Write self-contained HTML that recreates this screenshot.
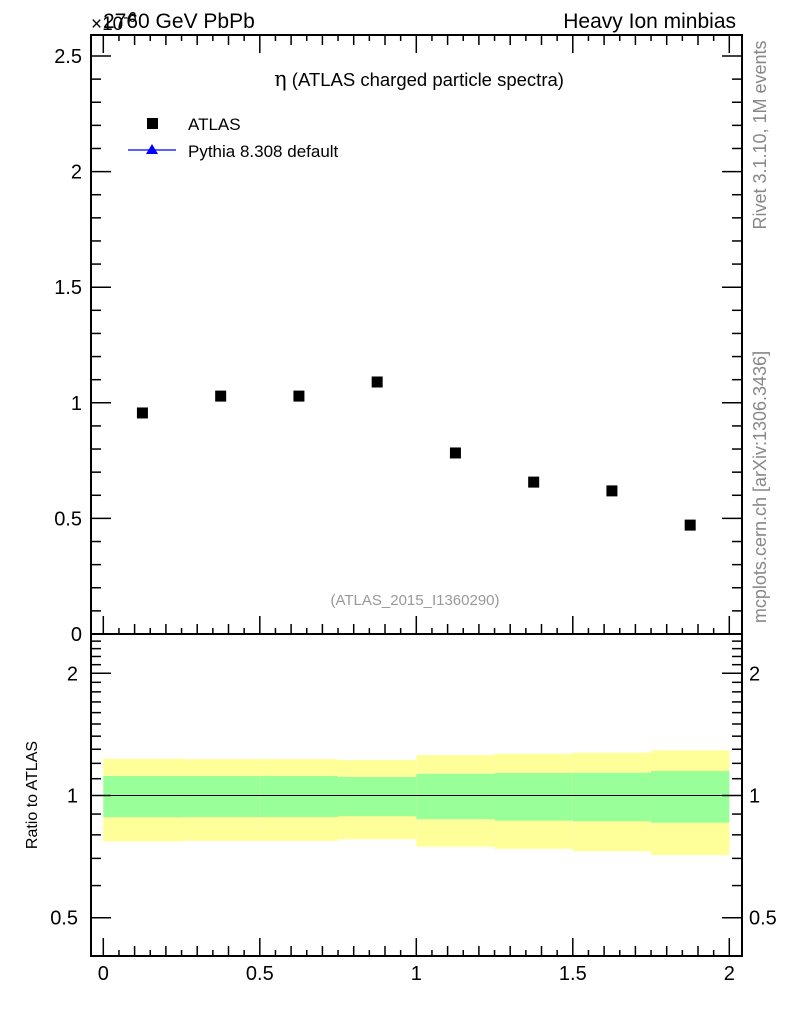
<!DOCTYPE html>
<html><head><meta charset="utf-8"><style>
body{margin:0;background:#fff;}
svg{display:block;font-family:"Liberation Sans",Arial,sans-serif;}
</style></head><body>
<svg id="c" width="786" height="1024" viewBox="0 0 786 1024">
<g id="bands"></g>
<g id="axes"></g>
<g id="marks"></g>
<text x="103" y="28" font-size="21">2760 GeV PbPb</text>
<text x="91" y="30" font-size="19">×10<tspan dy="-8" font-size="15">-6</tspan></text>
<text x="736" y="28" font-size="21" text-anchor="end">Heavy Ion minbias</text>
<text x="419" y="86" font-size="18.5" text-anchor="middle"><tspan font-family="DejaVu Serif,serif" font-size="21">η</tspan> (ATLAS charged particle spectra)</text>
<rect x="147" y="118" width="11" height="11" fill="#000"/>
<text x="188" y="130" font-size="17">ATLAS</text>
<line x1="128" y1="150" x2="176" y2="150" stroke="#00f" stroke-width="1.2"/>
<polygon points="152,144 158,154 146,154" fill="#00f"/>
<text x="188" y="157" font-size="17">Pythia 8.308 default</text>
<text x="415" y="605" font-size="15" fill="#999" text-anchor="middle">(ATLAS_2015_I1360290)</text>
<text transform="translate(766,135) rotate(-90)" font-size="18" fill="#888" text-anchor="middle">Rivet 3.1.10,  1M events</text>
<text transform="translate(766,487) rotate(-90)" font-size="18" fill="#888" text-anchor="middle">mcplots.cern.ch [arXiv:1306.3436]</text>
<text transform="translate(37,795) rotate(-90)" font-size="16" text-anchor="middle">Ratio to ATLAS</text>
</svg>
<script>
const binEdges=[0,0.25,0.5,0.75,1,1.25,1.5,1.75,2];
const atlasValues=[0.956,1.029,1.029,1.09,0.783,0.657,0.619,0.471];
const yellowHi=[1.232,1.229,1.229,1.223,1.258,1.267,1.275,1.292];
const yellowLo=[0.771,0.773,0.773,0.780,0.748,0.739,0.729,0.713];
const greenHi=[1.117,1.117,1.117,1.111,1.131,1.136,1.138,1.149];
const greenLo=[0.884,0.885,0.885,0.889,0.874,0.867,0.864,0.857];
const mainYTicks=["0","0.5","1","1.5","2","2.5"];
const xTicks=["0","0.5","1","1.5","2"];
const ratioYTicks=["0.5","1","2"];

const NS="http://www.w3.org/2000/svg";
const L=91,R=742,T=35,MB=634,RB=956;
const X=v=>103.3+v*313;
const Ym=v=>634-v*231.2;
const Yr=v=>795.5-Math.log10(v)*406;
function mk(p,tag,a){const e=document.createElementNS(NS,tag);for(const k in a)e.setAttribute(k,a[k]);p.appendChild(e);return e;}
const bands=document.getElementById('bands'),axes=document.getElementById('axes'),marks=document.getElementById('marks');
for(let i=0;i<8;i++){
 const x0=X(binEdges[i]),x1=X(binEdges[i+1]);
 let r=mk(bands,'rect',{x:x0,y:Yr(yellowHi[i]),width:x1-x0,height:Yr(yellowLo[i])-Yr(yellowHi[i]),fill:'#ffff99'});
 
 
 r=mk(bands,'rect',{x:x0,y:Yr(greenHi[i]),width:x1-x0,height:Yr(greenLo[i])-Yr(greenHi[i]),fill:'#99ff99'});
 
 
 const c=(binEdges[i]+binEdges[i+1])/2;
 const m=mk(marks,'rect',{x:X(c)-5.5,y:Ym(atlasValues[i])-5.5,width:11,height:11,fill:'#000'});
 
 
}
const one=mk(marks,'line',{x1:L,x2:R,y1:Yr(1),y2:Yr(1),stroke:'#000','stroke-width':1});


const st={stroke:'#000','stroke-width':2,fill:'none'};
const f1=mk(axes,'rect',Object.assign({x:L,y:T,width:R-L,height:MB-T},st));


const f2=mk(axes,'rect',Object.assign({x:L,y:MB,width:R-L,height:RB-MB},st));


function tk(x1,y1,x2,y2){mk(axes,'line',{x1,y1,x2,y2,stroke:'#000','stroke-width':1.5});}
for(let k=0;k<=40;k++){const v=k*0.05,x=X(v);const len=k%10==0?18:(k%2==0?10:6);
 tk(x,MB,x,MB-len);tk(x,T,x,T+len);tk(x,RB,x,RB-len);}
xTicks.forEach(s=>{const t=mk(axes,'text',{x:X(+s),y:980,'font-size':20,'text-anchor':'middle'});t.textContent=s;
 
 });
for(let k=0;k<=25;k++){const y=Ym(k*0.1);const len=k%5==0?20:10;tk(L,y,L+len,y);tk(R,y,R-len,y);}
mainYTicks.forEach(s=>{const t=mk(axes,'text',{x:82,y:Ym(+s)+7,'font-size':20,'text-anchor':'end'});t.textContent=s;
 
 });
const rt=[];for(let v=0.5;v<2.55;v+=0.1)rt.push(+v.toFixed(1));
rt.forEach(v=>{const y=Yr(v);if(y<MB||y>RB)return;const major=(v==0.5||v==1||v==2);const len=major?20:10;tk(L,y,L+len,y);tk(R,y,R-len,y);});
ratioYTicks.forEach(s=>{const y=Yr(+s)+7;
 let t=mk(axes,'text',{x:78,y,'font-size':20,'text-anchor':'end'});t.textContent=s;
 
 
 t=mk(axes,'text',{x:749,y,'font-size':20});t.textContent=s;
 
 });
</script>
</body></html>
